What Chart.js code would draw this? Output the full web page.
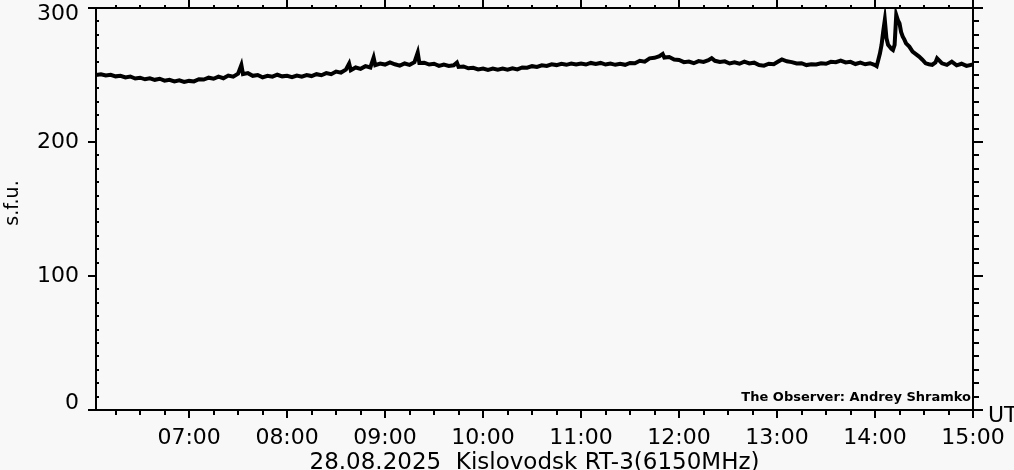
<!DOCTYPE html>
<html lang="en">
<head>
    <meta charset="UTF-8">
    <title>Kislovodsk RT-3 6150MHz</title>
    <script src="https://cdn.jsdelivr.net/npm/chart.js"></script>
    <style>
        html, body { margin: 0; padding: 0; background: #f8f8f8; }
        #wrap { width: 1014px; height: 470px; }
    </style>
</head>
<body>
    <div id="wrap"><canvas id="flux-chart"></canvas></div>

    <script>
        // time (UT) of each reading
        const times = [
            '06:03', '06:06', '06:09', '06:12', '06:15', '06:18', '06:21', '06:24', '06:27', '06:30',
            '06:33', '06:36', '06:39', '06:42', '06:45', '06:48', '06:51', '06:54', '06:57', '07:00',
            '07:03', '07:06', '07:09', '07:12', '07:15', '07:18', '07:21', '07:24', '07:27', '07:30',
            '07:32', '07:33', '07:36', '07:39', '07:42', '07:45', '07:48', '07:51', '07:54', '07:57',
            '08:00', '08:03', '08:06', '08:09', '08:12', '08:15', '08:18', '08:21', '08:24', '08:27',
            '08:30', '08:33', '08:36', '08:38', '08:39', '08:42', '08:45', '08:48', '08:51', '08:53',
            '08:54', '08:57', '09:00', '09:03', '09:06', '09:09', '09:12', '09:15', '09:18', '09:20',
            '09:21', '09:24', '09:27', '09:30', '09:33', '09:36', '09:39', '09:42', '09:44', '09:45',
            '09:48', '09:51', '09:54', '09:57', '10:00', '10:03', '10:06', '10:09', '10:12', '10:15',
            '10:18', '10:21', '10:24', '10:27', '10:30', '10:33', '10:36', '10:39', '10:42', '10:45',
            '10:48', '10:51', '10:54', '10:57', '11:00', '11:03', '11:06', '11:09', '11:12', '11:15',
            '11:18', '11:21', '11:24', '11:27', '11:30', '11:33', '11:36', '11:39', '11:42', '11:45',
            '11:48', '11:50', '11:51', '11:54', '11:57', '12:00', '12:03', '12:06', '12:09', '12:12',
            '12:15', '12:18', '12:20', '12:22', '12:25', '12:28', '12:31', '12:34', '12:37', '12:40',
            '12:43', '12:46', '12:49', '12:52', '12:55', '12:58', '13:01', '13:03', '13:06', '13:09',
            '13:12', '13:15', '13:18', '13:21', '13:24', '13:27', '13:30', '13:33', '13:36', '13:39',
            '13:42', '13:45', '13:48', '13:51', '13:54', '13:57', '14:00', '14:01', '14:02', '14:03',
            '14:04', '14:05', '14:06', '14:07', '14:08', '14:09', '14:10', '14:11', '14:12', '14:13',
            '14:14', '14:15', '14:16', '14:17', '14:18', '14:19', '14:21', '14:23', '14:25', '14:27',
            '14:29', '14:31', '14:33', '14:35', '14:37', '14:38', '14:40', '14:41', '14:44', '14:47',
            '14:50', '14:53', '14:56', '15:00'
        ];
        // flux in solar flux units
        const sfu = [
            250.0, 250.5, 249.6, 250.2, 249.0, 249.4, 248.2, 248.9, 247.4, 248.0,
            246.8, 247.5, 246.4, 247.2, 245.8, 246.4, 245.2, 246.0, 244.8, 245.6,
            245.2, 246.8, 246.6, 248.0, 247.2, 248.8, 247.6, 249.6, 248.8, 251.0,
            257.5, 250.6, 251.4, 249.4, 250.0, 248.2, 249.4, 248.8, 250.2, 249.0,
            249.4, 248.4, 249.6, 248.8, 250.0, 249.2, 250.6, 249.8, 251.4, 250.6,
            252.6, 251.8, 254.0, 258.6, 253.6, 255.6, 254.6, 256.6, 255.6, 263.0,
            257.4, 258.6, 257.8, 259.4, 258.0, 257.0, 258.6, 257.6, 259.6, 266.7,
            259.0, 259.2, 257.8, 258.4, 256.8, 257.8, 256.8, 257.2, 259.2, 256.0,
            256.4, 255.0, 255.4, 254.2, 254.8, 253.8, 254.8, 254.0, 254.8, 254.0,
            255.0, 254.2, 255.6, 255.4, 256.6, 256.0, 257.2, 256.8, 258.0, 257.4,
            258.4, 257.6, 258.6, 257.8, 258.6, 257.8, 259.0, 258.2, 259.0, 257.8,
            258.6, 257.6, 258.4, 257.6, 259.0, 258.8, 260.6, 260.0, 262.4, 262.8,
            264.0, 265.7, 263.0, 263.4, 261.6, 261.2, 259.6, 260.0, 258.8, 260.4,
            259.8, 261.0, 262.6, 260.6, 259.8, 260.2, 258.6, 259.4, 258.4, 260.0,
            258.6, 259.2, 257.4, 257.0, 258.4, 258.0, 260.2, 261.6, 260.2, 259.6,
            258.6, 258.8, 257.4, 258.0, 257.8, 258.8, 258.4, 259.8, 259.6, 260.8,
            259.4, 259.8, 258.2, 259.2, 258.0, 258.8, 257.4, 256.6, 261.2, 266.0,
            272.4, 282.3, 291.0, 277.4, 272.6, 271.1, 269.6, 268.7, 272.4, 294.8,
            291.0, 288.6, 282.0, 278.6, 276.4, 273.6, 271.2, 267.4, 265.6, 263.7,
            261.4, 258.7, 258.0, 257.5, 259.4, 262.4, 260.0, 258.7, 257.6, 260.0,
            257.2, 258.4, 256.8, 257.8
        ];
        const yTicks = [0, 100, 200, 300];
        const hourTicks = ['07:00', '08:00', '09:00', '10:00', '11:00', '12:00', '13:00', '14:00', '15:00'];

        const toMin = t => { const p = t.split(':'); return +p[0] * 60 + +p[1]; };
        const points = times.map((t, i) => ({ x: toMin(t), y: sfu[i] }));

        const FONT = '"DejaVu Sans", sans-serif';

        // frame, tick marks and all the texts of the old IDL style plot
        const framePlugin = {
            id: 'frame',
            afterDraw(chart) {
                const ctx = chart.ctx;
                const a = chart.chartArea;
                const xs = chart.scales.x, ys = chart.scales.y;
                ctx.save();
                ctx.strokeStyle = '#000';
                ctx.fillStyle = '#000';
                ctx.lineWidth = 2;
                ctx.strokeRect(a.left, a.top, a.right - a.left, a.bottom - a.top);

                ctx.beginPath();
                // y ticks every 10 sfu
                for (let v = 0; v <= 300; v += 10) {
                    const y = Math.round(ys.getPixelForValue(v));
                    if (v % 100 === 0) {
                        ctx.moveTo(a.left - 8, y); ctx.lineTo(a.left, y);
                        ctx.moveTo(a.right, y); ctx.lineTo(a.right + 10, y);
                    } else {
                        ctx.moveTo(a.left, y); ctx.lineTo(a.left + 3, y);
                        ctx.moveTo(a.right, y); ctx.lineTo(a.right + 6, y);
                    }
                }
                // x ticks every 15 minutes
                for (let m = 375; m <= 900; m += 15) {
                    const x = Math.round(xs.getPixelForValue(m));
                    const major = m % 60 === 0;
                    ctx.moveTo(x, a.top); ctx.lineTo(x, a.top - (major ? 8 : 3));
                    ctx.moveTo(x, a.bottom); ctx.lineTo(x, a.bottom + (major ? 8 : 5));
                }
                ctx.stroke();

                ctx.font = '22px ' + FONT;
                ctx.textAlign = 'right';
                ctx.textBaseline = 'middle';
                yTicks.forEach(v => {
                    let y = ys.getPixelForValue(v);
                    y = Math.min(Math.max(y, 14), 403);
                    ctx.fillText(String(v), 79, y);
                });

                ctx.textAlign = 'center';
                hourTicks.forEach(t => {
                    ctx.fillText(t, xs.getPixelForValue(toMin(t)), 438);
                });

                ctx.textAlign = 'left';
                ctx.fillText('UT', 988, 416);

                ctx.font = '23px ' + FONT;
                ctx.textAlign = 'center';
                ctx.textBaseline = 'alphabetic';
                ctx.fillText('28.08.2025  Kislovodsk RT-3(6150MHz)', (a.left + a.right) / 2, 469);

                ctx.save();
                ctx.translate(13, 203);
                ctx.rotate(-Math.PI / 2);
                ctx.textBaseline = 'middle';
                ctx.font = '19px ' + FONT;
                ctx.fillText('s.f.u.', 0, 0);
                ctx.restore();

                ctx.font = 'bold 13px ' + FONT;
                ctx.textAlign = 'right';
                ctx.textBaseline = 'middle';
                ctx.fillText('The Observer: Andrey Shramko', a.right - 2, 398);
                ctx.restore();
            }
        };

        const ctx = document.getElementById('flux-chart').getContext('2d');
        new Chart(ctx, {
            type: 'line',
            data: {
                datasets: [{
                    label: '6150MHz',
                    data: points,
                    borderColor: '#000',
                    borderWidth: 4,
                    pointRadius: 0,
                    tension: 0,
                    fill: false
                }]
            },
            options: {
                responsive: true,
                maintainAspectRatio: false,
                animation: false,
                layout: { padding: { left: 96, top: 8, right: 41, bottom: 60 } },
                plugins: { legend: { display: false }, tooltip: { enabled: false } },
                scales: {
                    x: { type: 'linear', min: 363, max: 900, display: false },
                    y: { min: 0, max: 300, display: false }
                }
            },
            plugins: [framePlugin]
        });
    </script>
</body>
</html>
